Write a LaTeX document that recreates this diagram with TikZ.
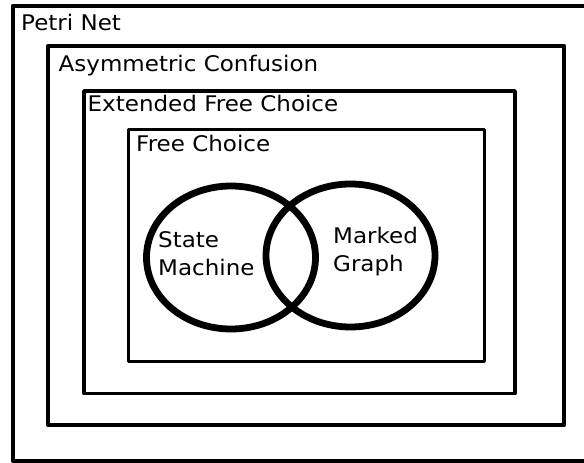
\documentclass[tikz,border=0pt]{standalone}
\usepackage{fontspec}
\setmainfont{DejaVu Sans}[FakeStretch=1.07]
\begin{document}
\begin{tikzpicture}[x=1pt,y=-1pt,
  frame/.style={draw=black,line join=round},
  lbl/.style={anchor=base west,inner sep=0pt,font=\fontsize{21.5}{28}\selectfont},
  set/.style={draw=black,line width=6.8pt}]
\useasboundingbox (0,0) rectangle (584,463);
\clip (0,0) rectangle (584,463);
% nested classes
\draw[frame,line width=4.6pt] (13,6) rectangle (600,461);
\draw[frame,line width=4.3pt] (48,46) rectangle (564,425);
\draw[frame,line width=3.8pt] (84,91) rectangle (515,393.5);
\draw[frame,line width=3pt] (128,129.5) rectangle (484,361);
% class names
\node[lbl] (pn) at (21,30.7) {Petri Net};
\node[lbl] (ac) at (58.5,71.7) {Asymmetric Confusion};
\node[lbl] (efc) at (87.5,111.7) {Extended Free Choice};
\node[lbl] (fc) at (136,151.7) {Free Choice};
% overlapping subclasses
\draw[set] (231,257.5) ellipse [x radius=84.5, y radius=71.5];
\draw[set] (350.5,255.5) ellipse [x radius=84.5, y radius=71.5];
% multi-line labels: the base anchor sits on the last line
\node[lbl,align=left] (sm) at (158,275) {State\\Machine};
\node[lbl,align=left] (mg) at (333,271.5) {Marked\\Graph};
\end{tikzpicture}
\end{document}
